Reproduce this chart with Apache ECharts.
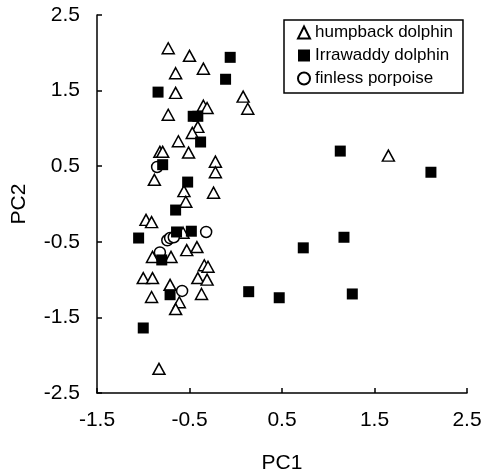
<!DOCTYPE html>
<html>
<head>
<meta charset="utf-8">
<script src="https://cdn.jsdelivr.net/npm/echarts@6/dist/echarts.min.js"></script>
<style>
html,body{margin:0;padding:0;background:#fff;}
#pca{width:483px;height:475px;}
</style>
</head>
<body>
<div id="pca"></div>
<script>
//坐标轴刻度
var xTicks = [-1.5, 2.5];
var yTicks = [-2.5, 2.5];
var seriesNames = ["humpback dolphin", "Irrawaddy dolphin", "finless porpoise"];

//humpback dolphin (PC1, PC2)
var humpback = [
	[-0.73, 2.06], [-0.50, 1.96], [-0.35, 1.79], [-0.65, 1.73], [-0.65, 1.47],
	[-0.73, 1.18], [-0.35, 1.30], [-0.31, 1.27], [0.08, 1.42], [0.13, 1.26],
	[-0.41, 1.02], [-0.47, 0.94], [-0.62, 0.83], [-0.82, 0.69], [-0.79, 0.69],
	[-0.51, 0.68], [-0.22, 0.56], [-0.22, 0.42], [-0.88, 0.32], [-0.56, 0.17],
	[-0.24, 0.15], [-0.54, 0.03], [-0.97, -0.21], [-0.91, -0.24], [-0.57, -0.38],
	[-0.53, -0.61], [-0.42, -0.57], [-0.90, -0.70], [-0.70, -0.70], [-0.34, -0.81],
	[-0.30, -0.83], [-1.00, -0.98], [-0.90, -0.98], [-0.41, -0.98], [-0.31, -1.00],
	[-0.71, -1.07], [-0.37, -1.19], [-0.91, -1.23], [-0.61, -1.30], [-0.65, -1.39],
	[-0.83, -2.18], [1.65, 0.64]
];
//Irrawaddy dolphin
var irrawaddy = [
	[-0.06, 1.94], [-0.11, 1.65], [-0.84, 1.48], [-0.46, 1.16], [-0.41, 1.16],
	[-0.38, 0.82], [-0.79, 0.52], [-0.52, 0.29], [-0.65, -0.08], [-1.05, -0.45],
	[-0.64, -0.37], [-0.48, -0.36], [-0.80, -0.74], [-0.71, -1.20], [-1.00, -1.64],
	[1.13, 0.70], [2.11, 0.42], [1.17, -0.44], [0.73, -0.58], [0.14, -1.16],
	[0.47, -1.24], [1.26, -1.19]
];
//finless porpoise
var finless = [
	[-0.85, 0.49], [-0.74, -0.48], [-0.71, -0.45], [-0.67, -0.44], [-0.32, -0.37],
	[-0.82, -0.64], [-0.58, -1.15]
];

var font = "Liberation Sans, Arial, sans-serif";
var axisCommon = {
	interval: 1,
	axisLine: {show: true, onZero: false, lineStyle: {color: "#000", width: 1.5}},
	axisTick: {show: true, inside: true, length: 5, lineStyle: {color: "#000", width: 1.5}},
	splitLine: {show: false},
	axisLabel: {color: "#000", fontSize: 21, fontFamily: font},
	nameLocation: "middle",
	nameTextStyle: {color: "#000", fontSize: 21, fontFamily: font}
};

var myChart = echarts.init(document.getElementById("pca"));
var option = {
	animation: false,
	backgroundColor: "#fff",
	grid: {left: 97, right: 16, top: 15, bottom: 82, outerBoundsMode: "none", containLabel: false},
	xAxis: Object.assign({}, axisCommon, {
		type: "value", min: xTicks[0], max: xTicks[1], name: "PC1", nameGap: 60,
		axisLabel: Object.assign({}, axisCommon.axisLabel, {margin: 17})
	}),
	yAxis: Object.assign({}, axisCommon, {
		type: "value", min: yTicks[0], max: yTicks[1], name: "PC2", nameGap: 67,
		axisLabel: Object.assign({}, axisCommon.axisLabel, {margin: 17})
	}),
	legend: {
		data: seriesNames,
		orient: "vertical",
		left: 284, top: 20,
		padding: [4, 10, 6, 13],
		itemGap: 6,
		itemWidth: 12, itemHeight: 12,
		borderColor: "#000", borderWidth: 1.5,
		textStyle: {color: "#000", fontSize: 17, fontFamily: font, lineHeight: 17}
	},
	series: [
		{
			name: seriesNames[0], type: "scatter", data: humpback,
			symbol: "triangle", symbolSize: [12, 11],
			itemStyle: {color: "#fff", borderColor: "#000", borderWidth: 1.5, opacity: 1}
		},
		{
			name: seriesNames[2], type: "scatter", data: finless,
			symbol: "circle", symbolSize: 11,
			itemStyle: {color: "#fff", borderColor: "#000", borderWidth: 1.5, opacity: 1}
		},
		{
			name: seriesNames[1], type: "scatter", data: irrawaddy,
			symbol: "rect", symbolSize: 11,
			itemStyle: {color: "#000", borderColor: "#000", borderWidth: 0, opacity: 1}
		}
	]
};
myChart.setOption(option);
</script>
</body>
</html>
